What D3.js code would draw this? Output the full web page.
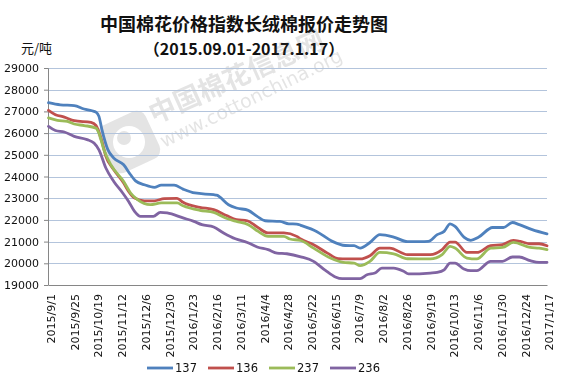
<!DOCTYPE html>
<html>
<head>
<meta charset="utf-8">
<script src="https://cdn.jsdelivr.net/npm/d3@7"></script>
<style>
body{margin:0;background:#fff;}
svg{display:block;}
</style>
</head>
<body>
<div id="chart"></div>
<script>
// tick labels on the date axis (every 24 days)
var xLabels = ["2015/9/1","2015/9/25","2015/10/19","2015/11/12","2015/12/6","2015/12/30",
    "2016/1/23","2016/2/16","2016/3/11","2016/4/4","2016/4/28","2016/5/22","2016/6/15",
    "2016/7/9","2016/8/2","2016/8/26","2016/9/19","2016/10/13","2016/11/6","2016/11/30",
    "2016/12/24","2017/1/17"];
var yTicks = [19000,20000,21000,22000,23000,24000,25000,26000,27000,28000,29000];
var names = ["137","136","237","236"];
var colors = ["#4f81bd","#c0504d","#9bbb59","#8064a2"];

// series values
var s137 = [["2015-09-01",27400],["2015-09-13",27300],["2015-09-27",27270],["2015-10-07",27110],
    ["2015-10-15",27030],["2015-10-19",26970],["2015-10-22",26770],["2015-10-25",26160],
    ["2015-10-31",25240],["2015-11-06",24850],["2015-11-16",24540],["2015-11-23",24080],
    ["2015-11-28",23800],["2015-12-07",23620],["2015-12-17",23500],["2015-12-24",23600],
    ["2016-01-06",23600],["2016-01-15",23420],["2016-01-27",23240],["2016-02-15",23160],
    ["2016-02-18",23140],["2016-03-01",22700],["2016-03-09",22550],["2016-03-21",22440],
    ["2016-03-30",22160],["2016-04-07",21960],["2016-04-22",21930],["2016-05-01",21820],
    ["2016-05-09",21810],["2016-05-13",21750],["2016-05-29",21470],["2016-06-14",21010],
    ["2016-06-27",20820],["2016-07-06",20810],["2016-07-12",20700],["2016-07-22",20960],
    ["2016-08-01",21320],["2016-08-15",21210],["2016-08-29",21000],["2016-09-11",21000],
    ["2016-09-19",21010],["2016-09-28",21320],["2016-10-05",21470],["2016-10-11",21820],
    ["2016-10-16",21700],["2016-10-25",21210],["2016-11-01",21060],["2016-11-09",21210],
    ["2016-11-23",21650],["2016-12-04",21650],["2016-12-13",21880],["2016-12-20",21780],
    ["2017-01-02",21550],["2017-01-17",21360]];
var s136 = [["2015-09-01",27050],["2015-09-08",26850],["2015-09-17",26740],["2015-09-27",26570],
    ["2015-10-14",26490],["2015-10-19",26350],["2015-10-25",25620],["2015-10-29",24930],
    ["2015-11-06",24310],["2015-11-16",23700],["2015-11-21",23310],["2015-11-27",23010],
    ["2015-12-07",22880],["2015-12-17",22880],["2015-12-27",22980],["2016-01-09",22990],
    ["2016-01-15",22810],["2016-02-01",22580],["2016-02-15",22470],["2016-02-28",22200],
    ["2016-03-09",22010],["2016-03-20",21960],["2016-03-30",21670],["2016-04-10",21400],
    ["2016-04-26",21400],["2016-05-09",21240],["2016-05-13",21120],["2016-05-26",20860],
    ["2016-06-09",20470],["2016-06-20",20210],["2016-06-29",20200],["2016-07-12",20200],
    ["2016-07-22",20350],["2016-08-01",20700],["2016-08-11",20700],["2016-08-29",20400],
    ["2016-09-21",20400],["2016-10-03",20630],["2016-10-11",20980],["2016-10-16",20980],
    ["2016-10-28",20500],["2016-11-07",20500],["2016-11-21",20810],["2016-12-03",20860],
    ["2016-12-14",21060],["2016-12-21",21010],["2016-12-31",20900],["2017-01-09",20900],
    ["2017-01-17",20810]];
var s237 = [["2015-09-01",26700],["2015-09-10",26590],["2015-09-20",26540],["2015-09-27",26420],
    ["2015-10-07",26350],["2015-10-19",26230],["2015-10-22",26000],["2015-10-27",25230],
    ["2015-11-03",24540],["2015-11-16",23770],["2015-11-23",23240],["2015-11-30",22930],
    ["2015-12-13",22700],["2015-12-24",22780],["2016-01-09",22780],["2016-01-15",22650],
    ["2016-02-01",22440],["2016-02-15",22350],["2016-02-27",22090],["2016-03-09",21930],
    ["2016-03-21",21780],["2016-03-31",21470],["2016-04-10",21240],["2016-04-26",21240],
    ["2016-05-02",21120],["2016-05-13",21050],["2016-05-26",20700],["2016-06-12",20240],
    ["2016-06-25",20040],["2016-07-06",20010],["2016-07-12",19890],["2016-07-22",20090],
    ["2016-08-01",20500],["2016-08-15",20440],["2016-08-29",20210],["2016-09-21",20200],
    ["2016-10-03",20400],["2016-10-11",20780],["2016-10-16",20700],["2016-10-28",20240],
    ["2016-11-07",20200],["2016-11-21",20700],["2016-12-03",20730],["2016-12-14",20960],
    ["2016-12-31",20730],["2017-01-09",20700],["2017-01-17",20630]];
var s236 = [["2015-09-01",26310],["2015-09-08",26120],["2015-09-17",26050],["2015-09-27",25850],
    ["2015-10-10",25700],["2015-10-17",25540],["2015-10-22",25230],["2015-10-29",24390],
    ["2015-11-06",23770],["2015-11-15",23240],["2015-11-21",22850],["2015-11-27",22390],
    ["2015-12-03",22160],["2015-12-16",22160],["2015-12-23",22350],["2015-12-30",22320],
    ["2016-01-15",22090],["2016-01-26",21930],["2016-02-03",21780],["2016-02-15",21670],
    ["2016-02-25",21400],["2016-03-08",21130],["2016-03-20",20960],["2016-03-30",20750],
    ["2016-04-10",20630],["2016-04-19",20470],["2016-04-29",20440],["2016-05-13",20300],
    ["2016-05-26",20090],["2016-06-07",19670],["2016-06-17",19370],["2016-06-24",19290],
    ["2016-07-12",19290],["2016-07-19",19470],["2016-07-27",19550],["2016-08-03",19780],
    ["2016-08-15",19780],["2016-08-25",19630],["2016-08-30",19510],["2016-09-21",19550],
    ["2016-09-28",19580],["2016-10-05",19700],["2016-10-11",20010],["2016-10-16",20010],
    ["2016-10-25",19740],["2016-11-01",19660],["2016-11-07",19660],["2016-11-21",20090],
    ["2016-12-03",20090],["2016-12-13",20290],["2016-12-20",20290],["2016-12-31",20120],
    ["2017-01-09",20040],["2017-01-17",20040]];

var series = [s137, s136, s237, s236];

var W = 569, H = 386;
var margin = {top: 68, right: 22, bottom: 101, left: 48},
    width = W - margin.left - margin.right,
    height = H - margin.top - margin.bottom;

var parseDay = d3.timeParse("%Y-%m-%d");
var parseLabel = d3.timeParse("%Y/%m/%d");
var tickDates = xLabels.map(function (s) { return parseLabel(s); });

var x = d3.scaleTime()
    .domain([tickDates[0], tickDates[tickDates.length - 1]])
    .range([0.5, width]);
var y = d3.scaleLinear().domain([19000, 29000]).range([height, 0]);

var svg = d3.select("#chart").append("svg")
    .attr("width", W)
    .attr("height", H);

// title
svg.append("text")
    .attr("x", 244).attr("y", 31)
    .attr("text-anchor", "middle")
    .style("font-family", "'Noto Sans CJK SC', sans-serif")
    .style("font-weight", "bold")
    .style("font-size", "18px")
    .attr("fill", "#111")
    .text("中国棉花价格指数长绒棉报价走势图");
svg.append("text")
    .attr("x", 244).attr("y", 55)
    .attr("text-anchor", "middle")
    .style("font-family", "'Noto Sans CJK SC', sans-serif")
    .style("font-weight", "bold")
    .style("font-size", "16px")
    .attr("fill", "#111")
    .text("（2015.09.01-2017.1.17）");
svg.append("text")
    .attr("x", 21).attr("y", 53)
    .style("font-family", "'Noto Sans CJK SC', sans-serif")
    .style("font-size", "13px")
    .attr("fill", "#111")
    .text("元/吨");

var g = svg.append("g")
    .attr("transform", "translate(" + margin.left + "," + margin.top + ")");

// watermark
var wm = g.append("g").attr("opacity", 0.16).attr("fill", "#555");
wm.append("rect")
    .attr("x", 55).attr("y", 48).attr("width", 52).attr("height", 52)
    .attr("rx", 10)
    .attr("transform", "rotate(-25,81,74)");
wm.append("circle").attr("cx", 81).attr("cy", 74).attr("r", 16).attr("fill", "#fff");
wm.append("circle").attr("cx", 76).attr("cy", 70).attr("r", 7);
wm.append("text")
    .attr("transform", "translate(106,56) rotate(-24)")
    .style("font-family", "'Noto Sans CJK SC', sans-serif")
    .style("font-weight", "bold")
    .style("font-size", "27px")
    .text("中国棉花信息网");
wm.append("text")
    .attr("transform", "translate(116,80) rotate(-26)")
    .style("font-family", "'DejaVu Sans', sans-serif")
    .style("font-size", "19px")
    .text("www.cottonchina.org");

// gridlines
g.append("g").selectAll("line")
    .data(yTicks.slice(1))
    .enter().append("line")
    .attr("x1", 0).attr("x2", width)
    .attr("y1", function (d) { return Math.round(y(d)) + 0.5; })
    .attr("y2", function (d) { return Math.round(y(d)) + 0.5; })
    .attr("stroke", "#b3c4dc")
    .attr("stroke-width", 1);

// y axis
var axisY = g.append("g")
    .call(d3.axisLeft(y).tickValues(yTicks).tickSize(4).tickPadding(5).tickFormat(d3.format("d")));
axisY.select(".domain").attr("stroke", "#868686");
axisY.selectAll(".tick line").attr("stroke", "#868686");
axisY.selectAll("text")
    .style("font-family", "'DejaVu Sans', sans-serif")
    .style("font-size", "11px")
    .attr("fill", "#111");

// x axis
var axisX = g.append("g")
    .attr("transform", "translate(0," + height + ")")
    .call(d3.axisBottom(x).tickValues(tickDates).tickSize(0).tickFormat(function (d, i) { return xLabels[i]; }));
axisX.select(".domain").attr("stroke", "#868686");
axisX.selectAll("text")
    .style("font-family", "'DejaVu Sans', sans-serif")
    .style("font-size", "11px")
    .attr("fill", "#111")
    .attr("text-anchor", "end")
    .attr("transform", "translate(2,0) rotate(-90)")
    .attr("x", -9)
    .attr("y", 0)
    .attr("dy", "0.35em");

// lines
var line = d3.line()
    .x(function (d) { return x(parseDay(d[0])); })
    .y(function (d) { return y(d[1]); })
    .curve(d3.curveMonotoneX);

series.forEach(function (s, i) {
    g.append("path")
        .datum(s)
        .attr("fill", "none")
        .attr("stroke", colors[i])
        .attr("stroke-width", 2.8)
        .attr("stroke-linejoin", "round")
        .attr("stroke-linecap", "round")
        .attr("d", line);
});

// legend
var legend = svg.append("g").attr("transform", "translate(147,368)");
names.forEach(function (n, i) {
    var item = legend.append("g").attr("transform", "translate(" + (i * 61) + ",0)");
    item.append("line")
        .attr("x1", 0).attr("x2", 26)
        .attr("stroke", colors[i])
        .attr("stroke-width", 2.8);
    item.append("text")
        .attr("x", 28).attr("dy", "0.36em")
        .style("font-family", "'DejaVu Sans', sans-serif")
        .style("font-size", "11.5px")
        .attr("fill", "#111")
        .text(n);
});
</script>
</body>
</html>
